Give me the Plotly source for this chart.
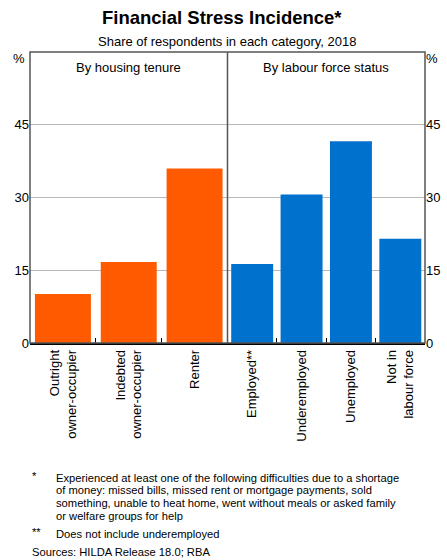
import plotly.graph_objects as go
from plotly.subplots import make_subplots

# data
tenure_labels = ["Outright<br>owner-occupier", "Indebted<br>owner-occupier", "Renter"]
tenure_values = [10.1, 16.7, 36.0]
labour_labels = ["Employed**", "Underemployed", "Unemployed", "Not in<br>labour force"]
labour_values = [16.3, 30.6, 41.6, 21.5]
y_ticks = [0, 15, 30, 45]

W, H = 447, 560
L, R, T, B = 30, 22, 52, 217
FONT = "Liberation Sans, Arial, sans-serif"


def px(x):
    return (x - L) / (W - L - R)


def py(y):
    return (H - B - y) / (H - T - B)


fig = make_subplots(rows=1, cols=2, horizontal_spacing=0)

fig.add_trace(go.Bar(x=tenure_labels, y=tenure_values, marker=dict(color="#ff5a00", line=dict(width=0))),
              row=1, col=1)
fig.add_trace(go.Bar(x=labour_labels, y=labour_values, marker=dict(color="#0072ce", line=dict(width=0))),
              row=1, col=2)

xax = dict(tickangle=-90, ticks="inside", ticklen=5, tickcolor="black", tickson="boundaries",
           showline=True, linecolor="black", linewidth=1.5, showgrid=False,
           tickfont=dict(size=13, color="black", family=FONT), automargin=False)
fig.update_xaxes(**xax)

yax = dict(range=[0, 60], tickvals=y_ticks, showgrid=True, gridcolor="#b8b8b8", gridwidth=1,
           zeroline=False, ticks="", tickfont=dict(size=13, color="black", family=FONT),
           automargin=False, fixedrange=True)
fig.update_yaxes(**yax)
fig.update_layout(yaxis2=dict(side="right", showticklabels=True, matches="y"))

# frame and divider
fig.add_shape(type="rect", xref="paper", yref="paper", x0=0, x1=1, y0=0, y1=1,
              line=dict(color="#555555", width=1.5))
fig.add_shape(type="line", xref="paper", yref="paper", x0=0.5, x1=0.5, y0=0, y1=1,
              line=dict(color="#555555", width=1.5))

ann = []
ann.append(dict(text="<b>Financial Stress Incidence*</b>", x=px(222), y=py(18), font=dict(size=18.5)))
ann.append(dict(text="Share of respondents in each category, 2018", x=px(227), y=py(42), font=dict(size=13)))
ann.append(dict(text="By housing tenure", x=0.25, y=py(67), font=dict(size=13)))
ann.append(dict(text="By labour force status", x=0.75, y=py(67), font=dict(size=13)))
ann.append(dict(text="%", x=px(19), y=py(58), font=dict(size=13)))
ann.append(dict(text="%", x=px(432), y=py(58), font=dict(size=13)))

notes = [
    (477.5, "Experienced at least one of the following difficulties due to a shortage"),
    (490.2, "of money: missed bills, missed rent or mortgage payments, sold"),
    (502.9, "something, unable to heat home, went without meals or asked family"),
    (515.6, "or welfare groups for help"),
    (534, "Does not include underemployed"),
]
for yy, t in notes:
    ann.append(dict(text=t, x=px(54), y=py(yy), xanchor="left", font=dict(size=11.2)))
ann.append(dict(text="*", x=px(30), y=py(476), xanchor="left", font=dict(size=11.2)))
ann.append(dict(text="**", x=px(30), y=py(532), xanchor="left", font=dict(size=11.2)))
ann.append(dict(text="Sources: HILDA Release 18.0; RBA", x=px(30), y=py(552), xanchor="left", font=dict(size=11.2)))

for a in ann:
    a.setdefault("xanchor", "center")
    a.update(xref="paper", yref="paper", yanchor="middle", showarrow=False)
    a["font"] = dict(family=FONT, color="black", **a["font"])
fig.update_layout(annotations=ann)

fig.update_layout(
    width=W, height=H,
    margin=dict(l=L, r=R, t=T, b=B),
    bargap=0.15,
    showlegend=False,
    paper_bgcolor="white",
    plot_bgcolor="white",
    font=dict(family=FONT, color="black"),
)

# the page body has a default 8px margin, drop it so the figure sits at 0,0
fig.write_html("out.html", config={"displayModeBar": False},
               post_script="document.body.style.margin='0';")
